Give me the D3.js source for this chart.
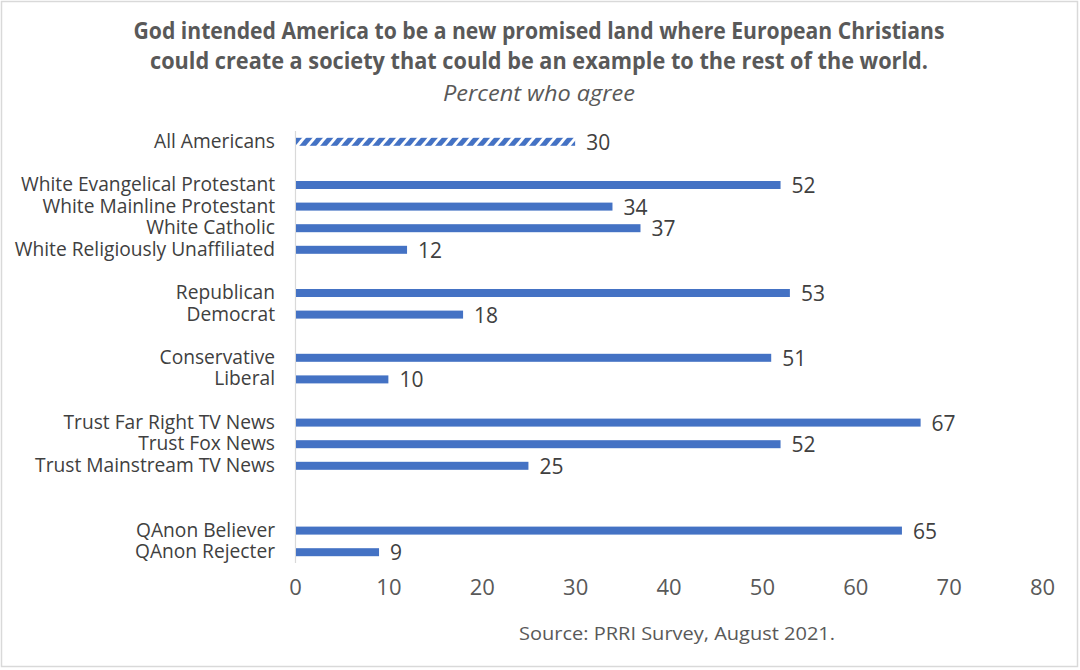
<!DOCTYPE html>
<html><head><meta charset="utf-8">
<script src="https://cdn.jsdelivr.net/npm/d3@7"></script>
<style>
html,body{margin:0;padding:0;background:#fff;}
svg{display:block;}
text{font-family:"Open Sans",sans-serif;}
</style></head><body>
<svg id="chart" width="1080" height="670"></svg>
<script>
const titleLines = ["God intended America to be a new promised land where European Christians",
  "could create a society that could be an example to the rest of the world."];
const subtitle = "Percent who agree";
const source = "Source: PRRI Survey, August 2021.";
const categories = ["All Americans",
  "White Evangelical Protestant","White Mainline Protestant","White Catholic","White Religiously Unaffiliated",
  "Republican","Democrat",
  "Conservative","Liberal",
  "Trust Far Right TV News","Trust Fox News","Trust Mainstream TV News",
  "QAnon Believer","QAnon Rejecter"];
const values = [30, 52, 34, 37, 12, 53, 18, 51, 10, 67, 52, 25, 65, 9];
const groups = [0, 1, 1, 1, 1, 2, 2, 3, 3, 4, 4, 4, 5, 5];
const emptyRowsBefore = [0, 1, 0, 0, 0, 1, 0, 1, 0, 1, 0, 0, 2, 0];
const xTicks = [0, 10, 20, 30, 40, 50, 60, 70, 80];

const svg = d3.select("#chart");
svg.append("rect").attr("x",1.5).attr("y",1.5).attr("width",1076).attr("height",665)
  .attr("fill","#fff").attr("stroke","#d9d9d9").attr("stroke-width",1.5);

// build row domain including empty spacer rows
const rows = [];
categories.forEach((c,i)=>{
  for(let k=0;k<emptyRowsBefore[i];k++) rows.push("__gap"+i+"_"+k);
  rows.push(c);
});

const x = d3.scaleLinear().domain([0,80]).range([295,1042]);
const y = d3.scaleBand().domain(rows).range([131,563]).paddingInner(0.62).paddingOuter(0.31);

// pattern
const defs = svg.append("defs");
const pat = defs.append("pattern").attr("id","hatch").attr("patternUnits","userSpaceOnUse")
  .attr("width",8).attr("height",8).attr("patternTransform","rotate(40)");
pat.append("rect").attr("width",8).attr("height",8).attr("fill","#4472C4");
pat.append("rect").attr("x",0).attr("width",3).attr("height",8).attr("fill","#fff");

// title
const title = svg.append("g");
titleLines.forEach((t,i)=>{
  title.append("text").attr("x",539).attr("y",39+i*30).attr("text-anchor","middle")
    .attr("font-size",22.5).attr("font-weight","bold").attr("fill","#595959")
    .attr("textLength", i===0?811:778).attr("lengthAdjust","spacingAndGlyphs").text(t);
});
svg.append("text").attr("x",539).attr("y",101).attr("text-anchor","middle")
  .attr("font-size",21).attr("font-style","italic").attr("fill","#595959")
  .attr("textLength",192).attr("lengthAdjust","spacingAndGlyphs").text(subtitle);

// vertical axis line
svg.append("line").attr("x1",295.5).attr("x2",295.5).attr("y1",131).attr("y2",563)
  .attr("stroke","#d9d9d9").attr("stroke-width",1.2);

const data = categories.map((c,i)=>({c, v: values[i], g: groups[i]}));
const bh = 8;
svg.append("g").selectAll("rect").data(data).join("rect")
  .attr("x", x(0)+1)
  .attr("y", d => y(d.c) + y.bandwidth()/2 - bh/2)
  .attr("width", d => x(d.v)-x(0)-1)
  .attr("height", bh)
  .attr("fill", d => d.c==="All Americans" ? "url(#hatch)" : "#4472C4");

// value labels
svg.append("g").selectAll("text").data(data).join("text")
  .attr("x", d => x(d.v)+11)
  .attr("y", d => y(d.c) + y.bandwidth()/2 + 8)
  .attr("font-size",21).attr("fill","#404040").text(d=>d.v);

// category labels
svg.append("g").selectAll("text").data(data).join("text")
  .attr("x", 275)
  .attr("y", d => y(d.c) + y.bandwidth()/2 + 6)
  .attr("text-anchor","end")
  .attr("font-size",19.2).attr("fill","#404040").text(d=>d.c);

// x axis ticks labels
const xAxis = d3.axisBottom(x).tickValues(xTicks).tickSize(0).tickPadding(0);
const gx = svg.append("g").attr("transform","translate(0,579)").call(xAxis);
gx.select(".domain").remove();
gx.selectAll("text").attr("font-family","'Open Sans',sans-serif").attr("font-size",22)
  .attr("fill","#595959").attr("dy","0.71em");

svg.append("text").attr("x",677).attr("y",640).attr("text-anchor","middle")
  .attr("font-size",18).attr("fill","#595959")
  .attr("textLength",316).attr("lengthAdjust","spacingAndGlyphs").text(source);
</script>
</body></html>
